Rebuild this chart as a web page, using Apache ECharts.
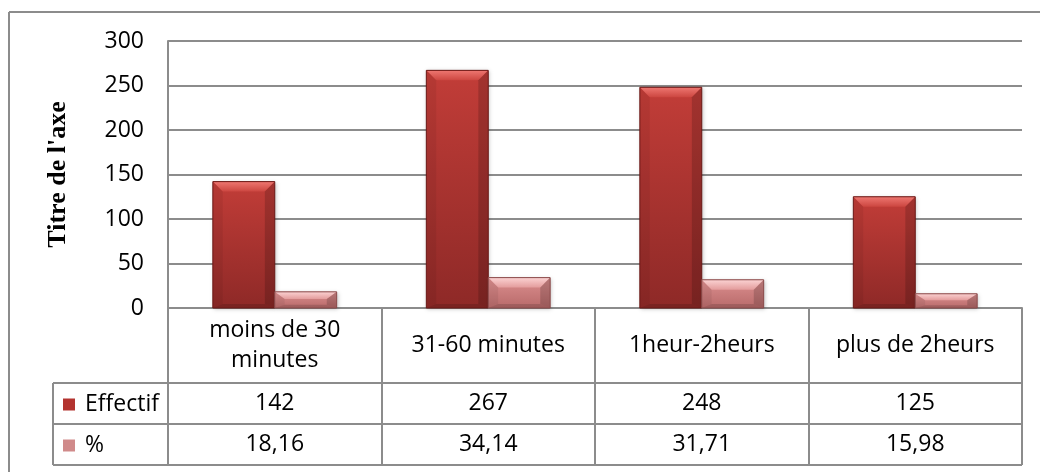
<!DOCTYPE html>
<html>
<head>
<meta charset="utf-8">
<script src="https://cdn.jsdelivr.net/npm/echarts@6/dist/echarts.min.js"></script>
<style>
  html, body { margin: 0; padding: 0; background: #fff; }
  #chart { width: 1040px; height: 472px; }
</style>
</head>
<body>
<div id="chart"></div>
<script>
// ---- data ----
const categories = ['moins de 30\nminutes', '31-60 minutes', '1heur-2heurs', 'plus de 2heurs'];
const effectif = [142, 267, 248, 125];
const pourcent = [18.16, 34.14, 31.71, 15.98];
const seriesNames = ['Effectif', '%'];
const yTicks = { min: 0, max: 300, interval: 50 };

// ---- layout ----
const W = 1040, H = 472;
const plot = { left: 168, right: 1022, top: 41, bottom: 308 };
const rowLines = [383, 424, 465];      // bottom edges of the table rows
const legendLeft = 53;
const BAR_RATIO = 0.29;                 // each bar's share of the category band
const LINE = '#8c8c8c';
const FONT = '"Open Sans", "Liberation Sans", sans-serif';
const FS = 23;

const fmt = v => v.toFixed(2).replace('.', ',');

// bevelled bar drawn through the axis scales
function bevelRenderer(side, c) {
  return function (params, api) {
    const idx = api.value(0), val = api.value(1);
    const base = api.coord([idx, 0]);
    const top = api.coord([idx, val]);
    const band = api.size([1, 0])[0];
    const w = band * BAR_RATIO;
    const x0 = side < 0 ? base[0] - w : base[0];
    const x1 = x0 + w;
    const y0 = top[1], y1 = base[1];
    const h = y1 - y0;
    const t = Math.min(10, h * 0.45);
    const s = Math.min(10, w * 0.16);
    const b = Math.min(4, h * 0.2);
    return {
      type: 'group',
      children: [
        { type: 'rect', shape: { x: x0, y: y0, width: w, height: h },
          style: { fill: new echarts.graphic.LinearGradient(0, 0, 0, 1, [
                     { offset: 0, color: c.faceTop }, { offset: 1, color: c.faceBot }]),
                   shadowBlur: 4, shadowColor: 'rgba(0,0,0,0.25)', shadowOffsetX: 1, shadowOffsetY: 1 } },
        { type: 'polygon', shape: { points: [[x0, y0], [x1, y0], [x1 - s, y0 + t], [x0 + s, y0 + t]] },
          style: { fill: new echarts.graphic.LinearGradient(0, 0, 0, 1, [
                     { offset: 0, color: c.light }, { offset: 1, color: c.lightEnd }]) } },
        { type: 'polygon', shape: { points: [[x0, y0], [x0 + s, y0 + t], [x0 + s, y1 - b], [x0, y1]] },
          style: { fill: 'rgba(0,0,0,0.06)' } },
        { type: 'polygon', shape: { points: [[x1, y0], [x1 - s, y0 + t], [x1 - s, y1 - b], [x1, y1]] },
          style: { fill: 'rgba(0,0,0,0.16)' } },
        { type: 'polygon', shape: { points: [[x0, y1], [x0 + s, y1 - b], [x1 - s, y1 - b], [x1, y1]] },
          style: { fill: 'rgba(0,0,0,0.14)' } },
        { type: 'rect', shape: { x: x0, y: y0, width: w, height: h },
          style: { fill: null, stroke: c.edge, lineWidth: 1 } }
      ]
    };
  };
}

const redStyle = { faceTop: '#c23d38', faceBot: '#8e2927', light: '#ee7771', lightEnd: '#cc4640', edge: '#6a1816' };
const pinkStyle = { faceTop: '#dc8f8f', faceBot: '#b86a6a', light: '#fbd2d2', lightEnd: '#e39c9c', edge: '#8a4a4a' };

const chart = echarts.init(document.getElementById('chart'), null, { renderer: 'canvas' });

const tableLines = [];
rowLines.forEach(y => tableLines.push({ type: 'line', shape: { x1: legendLeft, y1: y, x2: plot.right, y2: y },
  style: { stroke: LINE, lineWidth: 2 }, silent: true }));
tableLines.push({ type: 'line', shape: { x1: legendLeft, y1: rowLines[0], x2: legendLeft, y2: rowLines[2] },
  style: { stroke: LINE, lineWidth: 2 }, silent: true });
// outer chart frame
tableLines.push({ type: 'line', shape: { x1: 9, y1: 12, x2: W, y2: 12 }, style: { stroke: LINE, lineWidth: 2 }, silent: true });
tableLines.push({ type: 'line', shape: { x1: 9, y1: 12, x2: 9, y2: H }, style: { stroke: LINE, lineWidth: 2 }, silent: true });

const rowH = rowLines[1] - rowLines[0];
const catRowH = rowLines[0] - plot.bottom;

function valueAxis(values, offset) {
  return {
    type: 'category', data: values, position: 'bottom', offset: offset,
    axisLine: { show: false }, axisTick: { show: false }, splitLine: { show: false },
    axisLabel: { interval: 0, margin: rowH / 2, verticalAlign: 'middle',
                 fontFamily: FONT, fontSize: FS, color: '#000' }
  };
}

chart.setOption({
  animation: false,
  backgroundColor: '#fff',
  grid: { left: plot.left, right: W - plot.right, top: plot.top, bottom: H - plot.bottom, containLabel: false },
  legend: {
    orient: 'vertical', left: legendLeft + 10, top: rowLines[0] + (rowH - 26) / 2 - 3,
    padding: 0,
    itemWidth: 12, itemHeight: 12, itemGap: rowH - 34,
    icon: 'rect',
    data: seriesNames,
    textStyle: { fontFamily: FONT, fontSize: FS, color: '#000', lineHeight: 26, padding: [0, 0, 8, 5] }
  },
  xAxis: [
    {
      type: 'category', data: categories, position: 'bottom',
      axisLine: { show: true, lineStyle: { color: LINE, width: 2 } },
      axisTick: { show: true, interval: 0, alignWithLabel: false, length: rowLines[2] - plot.bottom,
                  lineStyle: { color: LINE, width: 2 } },
      axisLabel: { interval: 0, margin: catRowH / 2, verticalAlign: 'middle', lineHeight: 30,
                   fontFamily: FONT, fontSize: FS, color: '#000' }
    },
    valueAxis(effectif.map(String), catRowH),
    valueAxis(pourcent.map(fmt), catRowH + rowH)
  ],
  yAxis: {
    type: 'value', min: yTicks.min, max: yTicks.max, interval: yTicks.interval,
    name: "Titre de l'axe", nameLocation: 'middle', nameGap: 97, nameRotate: 90,
    nameTextStyle: { fontFamily: '"Liberation Serif", "Times New Roman", serif', fontWeight: 'bold',
                     fontSize: 26, color: '#000' },
    axisLine: { show: true, lineStyle: { color: LINE, width: 2 } },
    axisTick: { show: false },
    splitLine: { lineStyle: { color: LINE, width: 2 } },
    axisLabel: { margin: 24, fontFamily: FONT, fontSize: FS, color: '#000' }
  },
  series: [
    { name: seriesNames[0], type: 'custom', itemStyle: { color: '#b3332f' },
      data: effectif.map((v, i) => [i, v]), encode: { x: 0, y: 1 },
      renderItem: bevelRenderer(-1, redStyle) },
    { name: seriesNames[1], type: 'custom', itemStyle: { color: '#d08a8a' },
      data: pourcent.map((v, i) => [i, v]), encode: { x: 0, y: 1 },
      renderItem: bevelRenderer(1, pinkStyle) }
  ],
  graphic: tableLines
});
</script>
</body>
</html>
